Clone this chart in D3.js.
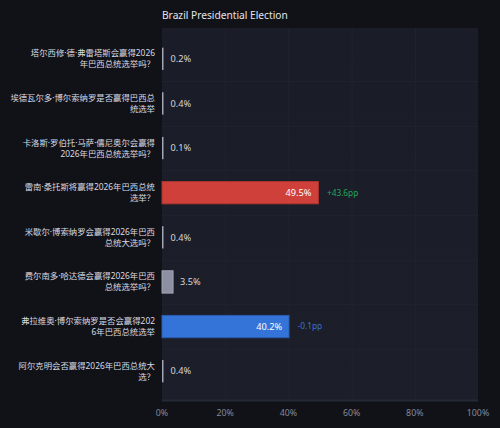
<!DOCTYPE html>
<html><head><meta charset="utf-8">
<script src="https://cdn.jsdelivr.net/npm/d3@7"></script>
<style>
html,body{margin:0;padding:0;background:#111217;}
svg{display:block;font-family:"Noto Sans","Noto Sans CJK SC",sans-serif;}
</style></head>
<body>
<svg id="chart" width="500" height="428"></svg>
<script>
const title = "Brazil Presidential Election";
const labelLines = [
  ["塔尔西修·德·弗雷塔斯会赢得2026", "年巴西总统选举吗？"],
  ["埃德瓦尔多·博尔索纳罗是否赢得巴西总", "统选举"],
  ["卡洛斯·罗伯托·马萨·儒尼奥尔会赢得", "2026年巴西总统选举吗？"],
  ["雷南·桑托斯将赢得2026年巴西总统", "选举？"],
  ["米歇尔·博索纳罗会赢得2026年巴西", "总统大选吗？"],
  ["费尔南多·哈达德会赢得2026年巴西", "总统选举吗？"],
  ["弗拉维奥·博尔索纳罗是否会赢得202", "6年巴西总统选举"],
  ["阿尔克明会否赢得2026年巴西总统大", "选？"]
];
const values = [0.2, 0.4, 0.1, 49.5, 0.4, 3.5, 40.2, 0.4];
const changes = [null, null, null, "+43.6pp", null, null, "-0.1pp", null];
const barKinds = ["tiny","tiny","tiny","red","tiny","grey","blue","tiny"];
const xTicks = [0, 20, 40, 60, 80, 100];

const svg = d3.select("#chart");
const W = 500, H = 428;
const plot = {left: 162, right: 478, top: 28, bottom: 401};

svg.append("rect").attr("width", W).attr("height", H).attr("fill", "#111217");

const bgGrad = svg.append("defs").append("linearGradient").attr("id","bg").attr("x1",0).attr("y1",0).attr("x2",0).attr("y2",1);
bgGrad.append("stop").attr("offset","0%").attr("stop-color","#1a1c27");
bgGrad.append("stop").attr("offset","100%").attr("stop-color","#1c1e2a");

svg.append("rect").attr("x", plot.left).attr("y", plot.top)
  .attr("width", plot.right - plot.left).attr("height", plot.bottom - plot.top)
  .attr("fill", "url(#bg)");
svg.append("line").attr("x1", plot.left).attr("x2", plot.right)
  .attr("y1", plot.bottom - 0.5).attr("y2", plot.bottom - 0.5)
  .attr("stroke", "#262937").attr("stroke-width", 2);

const x = d3.scaleLinear().domain([0, 100]).range([plot.left, plot.right]);
const y = d3.scaleBand().domain(d3.range(values.length)).range([36.5, 393.5]).paddingInner(0.5).paddingOuter(0.25);

// grid
svg.append("g").selectAll("line").data(xTicks.slice(1, -1)).join("line")
  .attr("x1", d => x(d) + 0.5).attr("x2", d => x(d) + 0.5)
  .attr("y1", plot.top).attr("y2", plot.bottom)
  .attr("stroke", "#21232e").attr("stroke-width", 1);
svg.append("g").selectAll("line").data(d3.range(1, values.length)).join("line")
  .attr("x1", plot.left).attr("x2", plot.right)
  .attr("y1", d => Math.round(y(d) - y.step() * y.paddingInner() / 2) + 0.5)
  .attr("y2", d => Math.round(y(d) - y.step() * y.paddingInner() / 2) + 0.5)
  .attr("stroke", "#1f212c").attr("stroke-width", 1);

// title
svg.append("text").attr("x", plot.left).attr("y", 19)
  .attr("fill", "#e2e4ea").attr("font-size", 10.2)
  .text(title);

const fills = {red: "#d0403a", blue: "#3474d8", grey: "#8c90a2", tiny: "#a2a6b6"};
const strokes = {red: "#a83530", blue: "#2a5cae", grey: "#a0a4b4", tiny: "#a2a6b6"};

const g = svg.append("g");
values.forEach((v, i) => {
  const bw = Math.max(x(v) - x(0), 1.5);
  const by = y(i), bh = y.bandwidth();
  const kind = barKinds[i];
  g.append("rect").attr("x", x(0)).attr("y", by).attr("width", bw).attr("height", bh)
    .attr("fill", fills[kind]).attr("stroke", kind === "tiny" ? "none" : strokes[kind])
    .attr("stroke-width", 1);
  const cy = by + bh / 2;
  const inside = v > 20;
  g.append("text")
    .attr("x", inside ? x(v) - 7 : x(0) + bw + 7)
    .attr("y", cy).attr("dy", "0.35em")
    .attr("text-anchor", inside ? "end" : "start")
    .attr("fill", inside ? "#ffffff" : "#d4d6de")
    .attr("font-size", 9.2)
    .text(v.toFixed(1) + "%");
  if (changes[i]) {
    g.append("text").attr("x", x(v) + 8.5).attr("y", cy).attr("dy", "0.35em")
      .attr("fill", changes[i].startsWith("+") ? "#22a85a" : "#3a72d0")
      .attr("font-size", 8.3)
      .text(changes[i]);
  }
  const t = g.append("text").attr("text-anchor", "end").attr("fill", "#d8dae2")
    .attr("font-size", 8.4);
  labelLines[i].forEach((ln, k) => {
    t.append("tspan").attr("x", 155).attr("y", cy - 5.5 + k * 11).attr("dy", "0.35em").text(ln);
  });
});

// x axis labels
svg.append("g").selectAll("text").data(xTicks).join("text")
  .attr("x", d => x(d)).attr("y", 416).attr("text-anchor", "middle")
  .attr("fill", "#858999").attr("font-size", 8.8)
  .text(d => d + "%");
</script>
</body></html>
